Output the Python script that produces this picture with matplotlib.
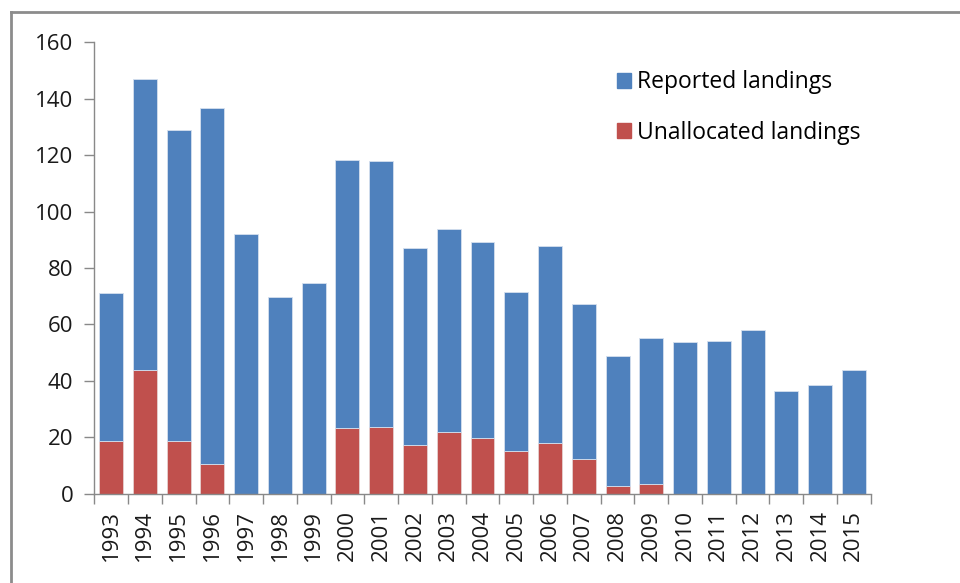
import matplotlib
matplotlib.use('Agg')
import matplotlib.pyplot as plt
from matplotlib.lines import Line2D
from matplotlib.patches import Patch
import numpy as np

# Data
years = [str(y) for y in range(1993, 2016)]
unallocated = [18.7, 43.9, 18.7, 10.6, 0, 0, 0, 23.4, 23.8, 17.4, 22.0, 19.6,
               15.0, 17.9, 12.3, 2.8, 3.4, 0, 0, 0, 0, 0, 0]
totals = [71.0, 146.9, 128.8, 136.6, 91.9, 69.7, 74.7, 118.4, 117.9, 87.0, 93.7, 89.2,
          71.5, 87.8, 67.4, 48.7, 55.1, 53.8, 54.2, 57.9, 36.5, 38.4, 43.9]
reported = [t - u for t, u in zip(totals, unallocated)]

yticks = [0, 20, 40, 60, 80, 100, 120, 140, 160]

blue = '#4F81BD'
red = '#C0504D'
axis_grey = '#898989'

plt.rcParams['font.family'] = ['Open Sans', 'DejaVu Sans']

fig = plt.figure(figsize=(9.6, 5.83), dpi=100)
ax = fig.add_axes([94.3 / 960, 1 - 493.7 / 583, (870.7 - 94.3) / 960, (493.7 - 42.3) / 583])

x = np.arange(len(years))
ax.bar(x, unallocated, width=0.71, color=red, edgecolor='#e6d0d0', linewidth=0.6,
       label='Unallocated landings', zorder=2)
ax.bar(x, reported, width=0.71, bottom=unallocated, color=blue, edgecolor='#d5e0ee',
       linewidth=0.6, label='Reported landings', zorder=2)

ax.set_xlim(-0.5, len(years) - 0.5)
ax.set_ylim(0, 160)
ax.set_yticks(yticks)
ax.set_yticklabels([str(v) for v in yticks], fontsize=16, color='#1a1a1a')

# Excel-style category axis: tick marks between categories
ax.set_xticks(x)
ax.set_xticklabels(years, rotation=90, fontsize=16, color='#1a1a1a')
ax.set_xticks(np.arange(-0.5, len(years)), minor=True)
ax.tick_params(axis='x', which='major', length=0, pad=12)
ax.tick_params(axis='x', which='minor', length=7, color=axis_grey, width=1)
ax.tick_params(axis='y', length=7, color=axis_grey, width=1, pad=8)

for side in ['top', 'right']:
    ax.spines[side].set_visible(False)
for side in ['left', 'bottom']:
    ax.spines[side].set_color(axis_grey)
    ax.spines[side].set_linewidth(1)

handles = [Patch(color=blue), Patch(color=red)]
ax.legend(handles, ['Reported landings', 'Unallocated landings'],
          loc='upper left', bbox_to_anchor=(0.673, 0.938), frameon=False,
          borderpad=0, borderaxespad=0,
          fontsize=16.5, handlelength=0.62, handleheight=0.62, handletextpad=0.27,
          labelspacing=1.15)

# outer chart border (left and top visible)
fig.add_artist(Line2D([11 / 960, 11 / 960], [0, 1 - 12 / 583], transform=fig.transFigure,
                      color='#8c8c8c', linewidth=2))
fig.add_artist(Line2D([11 / 960, 1], [1 - 12 / 583, 1 - 12 / 583], transform=fig.transFigure,
                      color='#8c8c8c', linewidth=2))

fig.savefig('out.png', dpi=100, facecolor='white')
